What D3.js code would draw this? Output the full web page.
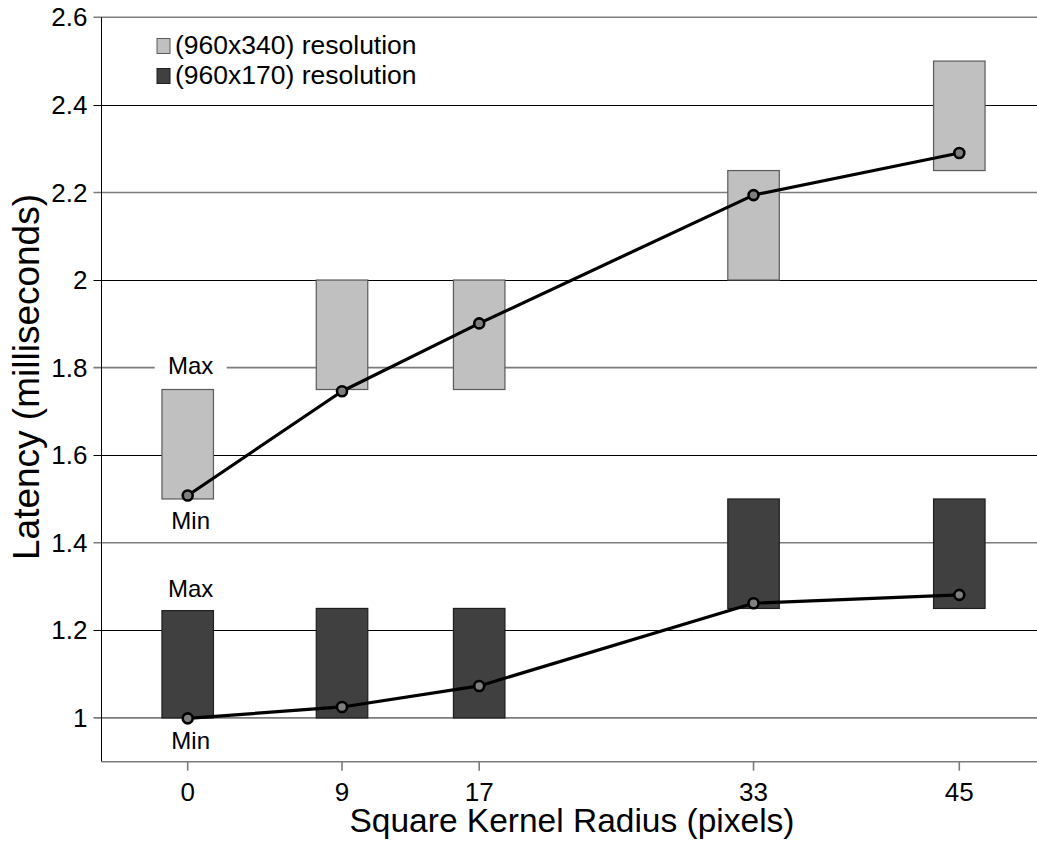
<!DOCTYPE html>
<html>
<head>
<meta charset="utf-8">
<script src="https://cdn.jsdelivr.net/npm/d3@7"></script>
<style>
  html, body { margin: 0; padding: 0; background: #fff; }
  svg { display: block; font-family: "Liberation Sans", Arial, Helvetica, sans-serif; }
</style>
</head>
<body>
<svg id="chart" width="1037" height="844"></svg>
<script>
// Kernel radii measured (pixels)
const radii = [0, 9, 17, 33, 45];
const xTickLabels = ["0", "9", "17", "33", "45"];

// Latency ranges and averages, 960x340 input
const hiResMin  = [1.5, 1.75, 1.75, 2.0, 2.25];
const hiResMax  = [1.75, 2.0, 2.0, 2.25, 2.5];
const hiResMean = [1.508, 1.746, 1.901, 2.194, 2.29];

// Latency ranges and averages, 960x170 input
const loResMin  = [1.0, 1.0, 1.0, 1.25, 1.25];
const loResMax  = [1.245, 1.25, 1.25, 1.5, 1.5];
const loResMean = [0.999, 1.025, 1.073, 1.262, 1.281];

const yTickValues = [1, 1.2, 1.4, 1.6, 1.8, 2, 2.2, 2.4, 2.6];
const yTickLabels = ["1", "1.2", "1.4", "1.6", "1.8", "2", "2.2", "2.4", "2.6"];
const seriesNames = ["(960x340) resolution", "(960x170) resolution"];
const xTitle = "Square Kernel Radius (pixels)";
const yTitle = "Latency (milliseconds)";

const W = 1037, H = 844;
const plotLeft = 101.5, plotRight = W, plotTop = 17.3, plotBottom = 761.7;

const svg = d3.select("#chart");

const x = d3.scaleLinear().domain([0, 45]).range([187.7, 959.3]);
const y = d3.scaleLinear().domain([0.9, 2.6]).range([plotBottom, plotTop]);

const BLACK = "#000", GRID_GRAY = "#7c7c7c";
const LIGHT = "#c0c0c0", DARK = "#404040";

// Horizontal grid lines (alternating crisp black / soft gray)
const gridG = svg.append("g");
yTickValues.forEach((v, i) => {
  const isBlack = i % 2 === 1;
  const yy = isBlack ? Math.round(y(v)) + 0.5 : y(v);
  gridG.append("line")
    .attr("x1", plotLeft - 8).attr("x2", plotRight)
    .attr("y1", yy).attr("y2", yy)
    .attr("stroke", isBlack ? BLACK : GRID_GRAY)
    .attr("stroke-width", isBlack ? 1 : 1.6);
  gridG.append("text")
    .attr("x", plotLeft - 14).attr("y", y(v))
    .attr("dy", "0.35em")
    .attr("text-anchor", "end")
    .attr("font-size", 26)
    .attr("fill", BLACK)
    .text(yTickLabels[i]);
});

// Y axis line
svg.append("line")
  .attr("x1", plotLeft).attr("x2", plotLeft)
  .attr("y1", plotTop).attr("y2", plotBottom)
  .attr("stroke", BLACK).attr("stroke-width", 1);

// X axis
const xAxisG = svg.append("g").attr("transform", `translate(0,${plotBottom})`);
xAxisG.append("line")
  .attr("x1", plotLeft).attr("x2", plotRight)
  .attr("stroke", GRID_GRAY).attr("stroke-width", 1.6);
radii.forEach((r, i) => {
  xAxisG.append("line")
    .attr("x1", x(r)).attr("x2", x(r))
    .attr("y1", 0).attr("y2", 9)
    .attr("stroke", GRID_GRAY).attr("stroke-width", 1.6);
  xAxisG.append("text")
    .attr("x", x(r)).attr("y", 39)
    .attr("text-anchor", "middle")
    .attr("font-size", 26)
    .attr("fill", BLACK)
    .text(xTickLabels[i]);
});

// Range bars
const barW = 51.5;
function drawBars(mins, maxs, fill, stroke) {
  svg.append("g").selectAll("rect")
    .data(radii.map((r, i) => ({ r, lo: mins[i], hi: maxs[i] })))
    .join("rect")
    .attr("x", d => x(d.r) - barW / 2)
    .attr("width", barW)
    .attr("y", d => y(d.hi))
    .attr("height", d => y(d.lo) - y(d.hi))
    .attr("fill", fill)
    .attr("stroke", stroke)
    .attr("stroke-width", 1.2);
}
drawBars(hiResMin, hiResMax, LIGHT, "#5a5a5a");
drawBars(loResMin, loResMax, DARK, "#1e1e1e");

// Average latency lines with markers
const line = d3.line().x(d => x(d.r)).y(d => y(d.v));
function drawMeanLine(values) {
  const pts = radii.map((r, i) => ({ r, v: values[i] }));
  svg.append("path")
    .datum(pts)
    .attr("d", line)
    .attr("fill", "none")
    .attr("stroke", BLACK)
    .attr("stroke-width", 3.2)
    .attr("stroke-linejoin", "round");
  svg.append("g").selectAll("circle")
    .data(pts)
    .join("circle")
    .attr("cx", d => x(d.r))
    .attr("cy", d => y(d.v))
    .attr("r", 5)
    .attr("fill", "#7f7f7f")
    .attr("stroke", BLACK)
    .attr("stroke-width", 2.6);
}
drawMeanLine(hiResMean);
drawMeanLine(loResMean);

// Max / Min annotations on the first group
function annotate(text, yBase) {
  const g = svg.append("g");
  g.append("rect")
    .attr("x", x(0) + 3 - 36).attr("y", yBase - 20)
    .attr("width", 72).attr("height", 25)
    .attr("fill", "#fff");
  g.append("text")
    .attr("x", x(0) + 3).attr("y", yBase)
    .attr("text-anchor", "middle")
    .attr("font-size", 24)
    .attr("fill", BLACK)
    .text(text);
}
annotate("Max", y(hiResMax[0]) - 16);
annotate("Min", y(hiResMin[0]) + 30);
annotate("Max", y(loResMax[0]) - 14);
annotate("Min", y(loResMin[0]) + 31);

// Legend
const legend = svg.append("g");
[[LIGHT, "#5a5a5a"], [DARK, "#1e1e1e"]].forEach(([fill, stroke], i) => {
  legend.append("rect")
    .attr("x", 157).attr("y", 38.5 + i * 30)
    .attr("width", 13).attr("height", 15)
    .attr("fill", fill).attr("stroke", stroke).attr("stroke-width", 1);
  legend.append("text")
    .attr("x", 175).attr("y", 54 + i * 30)
    .attr("font-size", 26.5)
    .attr("fill", BLACK)
    .text(seriesNames[i]);
});

// Axis titles
svg.append("text")
  .attr("x", 572).attr("y", 832)
  .attr("text-anchor", "middle")
  .attr("font-size", 33.5)
  .attr("fill", BLACK)
  .text(xTitle);

svg.append("text")
  .attr("transform", `translate(39,377) rotate(-90)`)
  .attr("text-anchor", "middle")
  .attr("font-size", 37)
  .attr("fill", BLACK)
  .text(yTitle);
</script>
</body>
</html>
